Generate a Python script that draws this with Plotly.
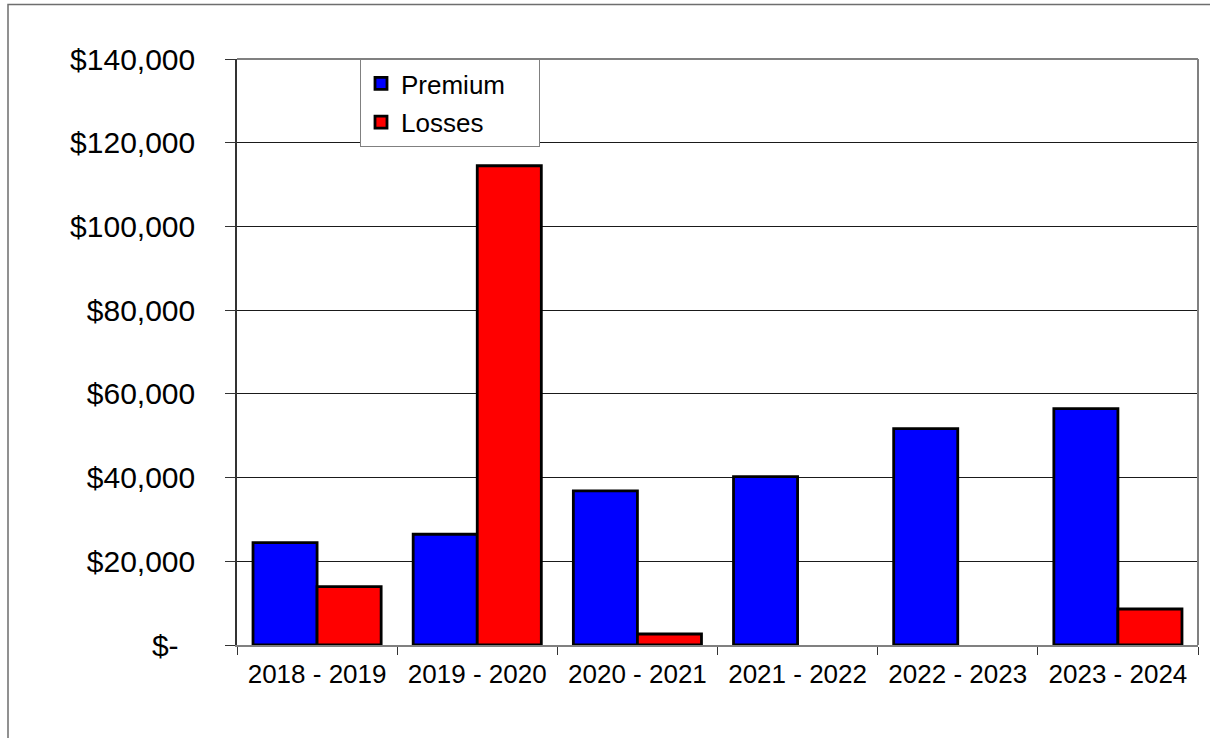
import plotly.graph_objects as go

categories = ["2018 - 2019", "2019 - 2020", "2020 - 2021", "2021 - 2022", "2022 - 2023", "2023 - 2024"]
premium = [24450, 26460, 36810, 40230, 51700, 56480]
losses = [13940, 114500, 2630, 0, 0, 8600]
y_tickvals = [0, 20000, 40000, 60000, 80000, 100000, 120000, 140000]
y_ticktext = ["$-\u00a0\u00a0", "$20,000", "$40,000", "$60,000", "$80,000", "$100,000", "$120,000", "$140,000"]

FONT = "Liberation Sans, Arial, sans-serif"

fig = go.Figure()
fig.add_trace(go.Bar(
    x=categories, y=premium, name="Premium\u00a0\u00a0\u00a0\u00a0",
    marker=dict(color="#0000FF", line=dict(color="#000000", width=2.8)),
    legendgroup="p",
))
fig.add_trace(go.Bar(
    x=categories, y=[v if v else None for v in losses], name="Losses",
    marker=dict(color="#FF0000", line=dict(color="#000000", width=2.8)),
    legendgroup="l",
))

fig.update_layout(
    width=1210, height=738,
    margin=dict(l=237, r=12, t=59, b=93),
    paper_bgcolor="white", plot_bgcolor="white",
    barmode="group", bargap=0.2, bargroupgap=0,
    font=dict(family=FONT, color="#000000"),
    showlegend=True,
    legend=dict(
        x=(360 - 237) / 961, y=1.0, xanchor="left", yanchor="top",
        bgcolor="white", bordercolor="#808080", borderwidth=1,
        font=dict(family=FONT, size=26, color="#000000"),
        tracegroupgap=2,
    ),
    xaxis=dict(
        type="category",
        showgrid=False,
        showline=True, linecolor="#808080", linewidth=2,
        ticks="outside", tickson="boundaries", ticklen=8, tickcolor="#333333", tickwidth=1,
        tickfont=dict(family=FONT, size=26, color="#000000"),
        ticklabelstandoff=5,
        zeroline=False,
    ),
    yaxis=dict(
        range=[0, 140000],
        tickvals=y_tickvals, ticktext=y_ticktext,
        showgrid=True, gridcolor="#1a1a1a", gridwidth=1,
        showline=True, linecolor="#333333", linewidth=1.5,
        ticks="outside", ticklen=10, tickcolor="#333333", tickwidth=1,
        tickfont=dict(family=FONT, size=30, color="#000000"),
        ticklabelstandoff=24,
        zeroline=False,
    ),
    shapes=[
        # plot area top and right border
        dict(type="line", xref="paper", yref="paper", x0=0, x1=1, y0=1, y1=1,
             line=dict(color="#808080", width=2)),
        dict(type="line", xref="paper", yref="paper", x0=1, x1=1, y0=0, y1=1,
             line=dict(color="#808080", width=2)),
        # outer chart frame
        dict(type="rect", xref="paper", yref="paper",
             x0=(8 - 237) / 961, x1=1.05, y0=-0.2, y1=(645 - 4.5) / 586,
             line=dict(color="#6e6e6e", width=1.5), layer="below"),
    ],
)

fig.write_html("out.html")
